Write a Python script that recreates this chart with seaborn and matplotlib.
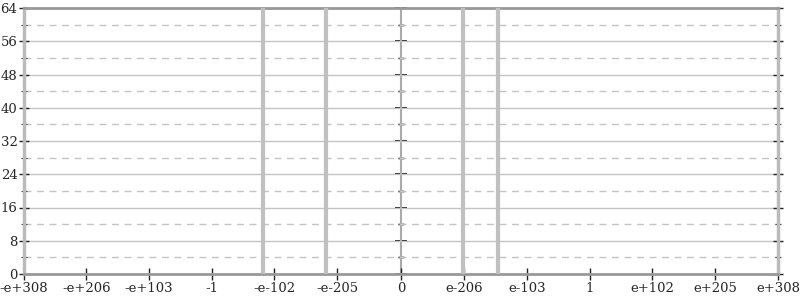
import numpy as np
import matplotlib
matplotlib.use("Agg")
import matplotlib.pyplot as plt
import seaborn as sns

# ---- data ----
bin_values = [-1.6e-84, -1e-187, 5e-209, 1e-151]
bin_counts = [64, 64, 64, 64]
tick_values = [-1e308, -1e206, -1e103, -1.0, -1e-102, -1e-205, 0.0,
               1e-206, 1e-103, 1.0, 1e102, 1e205, 1e308]
tick_labels = ["-e+308", "-e+206", "-e+103", "-1", "-e-102", "-e-205", "0",
               "e-206", "e-103", "1", "e+102", "e+205", "e+308"]
y_major = [0, 8, 16, 24, 32, 40, 48, 56, 64]
y_minor = [4, 12, 20, 28, 36, 44, 52, 60]

sns.set_theme(style="white")
plt.rcParams["font.family"] = ["DejaVu Serif"]


def fwd(x):
    x = np.asarray(x, dtype=float)
    with np.errstate(divide="ignore", invalid="ignore", over="ignore"):
        a = np.abs(x)
        p = np.where(a > 0, (np.log10(np.where(a > 0, a, 1.0)) + 310.0) / 103.0, 0.0)
        p = np.clip(p, 0, None)
    return np.sign(x) * p


def inv(p):
    p = np.asarray(p, dtype=float)
    with np.errstate(over="ignore", invalid="ignore"):
        v = np.sign(p) * np.power(10.0, np.abs(p) * 103.0 - 310.0)
    return v


fig = plt.figure(figsize=(8, 3), dpi=100)
ax = fig.add_axes([24 / 800, 26 / 300, 754 / 800, 266 / 300])
ax.set_xscale("function", functions=(fwd, inv))
ax.set_xlim(-1e308, 1e308)
ax.set_ylim(0, 64)

# grid
ax.set_yticks(y_major)
ax.set_yticks(y_minor, minor=True)
ax.grid(axis="y", which="major", color="#c4c4c4", linewidth=1, linestyle="-")
ax.grid(axis="y", which="minor", color="#c4c4c4", linewidth=1, linestyle=(0, (5, 4)))
ax.grid(axis="x", visible=False)
ax.set_axisbelow(True)

# bars
ax.vlines(bin_values, 0, bin_counts, colors="#c0c0c0", linewidth=3, zorder=3)

# ticks
ax.set_xticks(tick_values)
ax.set_xticklabels(tick_labels)
ax.xaxis.set_minor_locator(matplotlib.ticker.NullLocator())
ax.tick_params(axis="x", which="major", direction="inout", length=8, width=1,
               color="#222222", labelsize=9.5, pad=2, bottom=True)
ax.tick_params(axis="y", which="major", direction="inout", length=7.5, width=1,
               color="#222222", labelsize=9.5, pad=1, left=True, right=True)
ax.tick_params(axis="y", which="minor", direction="inout", length=4.5, width=0.8,
               color="#444444", left=True, right=True)

# spines
for s in ax.spines.values():
    s.set_visible(True)
ax.spines["left"].set_color("#bbbbbb")
ax.spines["left"].set_linewidth(2.5)
ax.spines["right"].set_color("#bbbbbb")
ax.spines["right"].set_linewidth(2.5)
ax.spines["top"].set_color("#999999")
ax.spines["bottom"].set_color("#999999")
ax.spines["top"].set_linewidth(2)
ax.spines["bottom"].set_linewidth(2)

# centre axis
center = ax.secondary_yaxis(0.5)
center.set_color("#222222")
center.set_yticks(y_major)
center.set_yticks(y_minor, minor=True)
center.set_yticklabels([])
center.tick_params(axis="y", which="both", left=True, right=True,
                   labelleft=False, labelright=False)
center.tick_params(axis="y", which="major", direction="inout", length=8, width=1.2,
                   color="#222222")
center.tick_params(axis="y", which="minor", direction="inout", length=5, width=1,
                   color="#444444")
for s in center.spines.values():
    s.set_color("#aaaaaa")
    s.set_linewidth(1.5)

fig.savefig("out.png", dpi=100)
